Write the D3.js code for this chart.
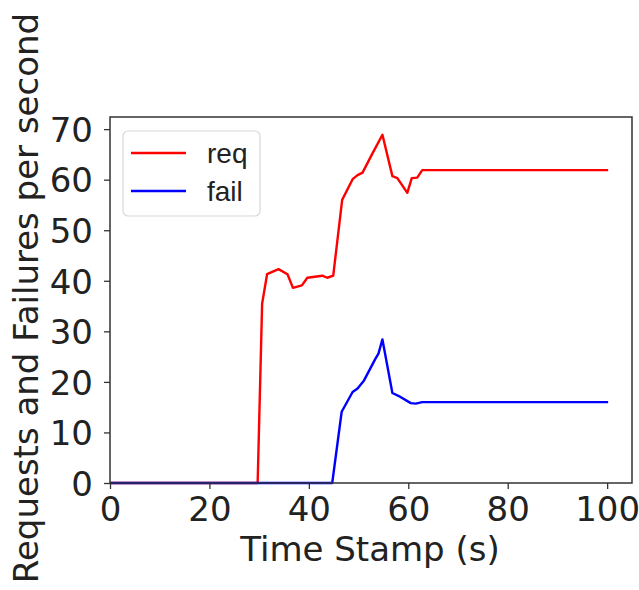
<!DOCTYPE html>
<html lang="en">
<head>
<meta charset="UTF-8" />
<title>Requests and Failures per second</title>
<style>
  body { margin: 0; background: #fff; }
  svg text { font-family: "DejaVu Sans", sans-serif; fill: #222; }
</style>
</head>
<body>
<script src="https://cdn.jsdelivr.net/npm/d3@7"></script>
<div id="app"></div>
<script>
// data (time in s, value per second)
const reqTime = [0, 29.7, 30.6, 31.6, 33.9, 35.7, 36.8, 38.6, 39.7, 42.7, 43.7, 44.9, 46.7, 48.8, 49.8, 50.8, 52.8, 54.8, 56.8, 57.8, 59.8, 60.7, 61.8, 62.8, 100.2];
const reqVal  = [0, 0, 35.5, 41.3, 42.3, 41.3, 38.6, 39.1, 40.6, 41.0, 40.6, 41.0, 56.0, 60.1, 60.9, 61.4, 65.2, 68.9, 60.7, 60.3, 57.4, 60.3, 60.4, 61.9, 61.9];
const failTime = [0, 44.7, 46.6, 48.8, 49.8, 51.1, 53.4, 54.0, 54.8, 56.8, 58.1, 60.5, 61.5, 62.8, 100.2];
const failVal  = [0, 0, 14.1, 18.0, 18.7, 20.3, 24.6, 25.6, 28.4, 17.8, 17.2, 15.8, 15.7, 16.0, 16.0];
const xTicks = [0, 20, 40, 60, 80, 100];
const yTicks = [0, 10, 20, 30, 40, 50, 60, 70];
const seriesNames = ["req", "fail"];
const seriesColors = ["#ff0000", "#0000ff"];

const w = 639, h = 590;
const mLeft = 110, mRight = 632, mTop = 117, mBottom = 483;

const svg = d3.select("#app").append("svg")
  .attr("width", w).attr("height", h);

const x = d3.scaleLinear().domain([0, 105]).range([mLeft, mRight]);
const y = d3.scaleLinear().domain([0, 72.4]).range([mBottom, mTop]);

//Lines
const line = d3.line().x(d => x(d[0])).y(d => y(d[1]));
const series = [
  d3.zip(reqTime, reqVal),
  d3.zip(failTime, failVal)
];
svg.selectAll(".series")
  .data(series)
  .enter()
  .append("path")
  .attr("class", "series")
  .attr("d", line)
  .attr("fill", "none")
  .attr("stroke", (d, i) => seriesColors[i])
  .attr("stroke-width", 2.4)
  .attr("stroke-linejoin", "round");

//Axes
const xAxis = d3.axisBottom(x).tickValues(xTicks).tickSize(6);
const yAxis = d3.axisLeft(y).tickValues(yTicks).tickSize(6).tickPadding(11);

const gx = svg.append("g").attr("transform", `translate(0,${mBottom})`).call(xAxis);
const gy = svg.append("g").attr("transform", `translate(${mLeft},0)`).call(yAxis);
[gx, gy].forEach(g => {
  g.select(".domain").remove();
  g.selectAll("line").attr("stroke", "#333").attr("stroke-width", 1.3);
  g.selectAll("text").style("font-size", "34px").attr("fill", "#222");
});
gx.selectAll("text").attr("y", 38).attr("dy", 0);
gy.selectAll("text").attr("dy", "0.36em");

// frame
svg.append("rect")
  .attr("x", mLeft).attr("y", mTop)
  .attr("width", mRight - mLeft).attr("height", mBottom - mTop)
  .attr("fill", "none").attr("stroke", "#333").attr("stroke-width", 1.5);

//Labels
svg.append("text")
  .attr("x", 370).attr("y", 561)
  .attr("text-anchor", "middle")
  .style("font-size", "34px")
  .text("Time Stamp (s)");

svg.append("text")
  .attr("transform", "translate(38,298) rotate(-90)")
  .attr("text-anchor", "middle")
  .style("font-size", "34px")
  .text("Requests and Failures per second");

//Legend
const legend = svg.append("g").attr("transform", "translate(123,131)");
legend.append("rect")
  .attr("width", 137).attr("height", 85)
  .attr("rx", 5)
  .attr("fill", "#fff").attr("fill-opacity", 0.8)
  .attr("stroke", "#d8d8d8").attr("stroke-width", 1.2);
const items = legend.selectAll(".item")
  .data(seriesNames)
  .enter()
  .append("g")
  .attr("transform", (d, i) => `translate(0,${22 + i * 38})`);
items.append("line")
  .attr("x1", 8).attr("x2", 63)
  .attr("stroke", (d, i) => seriesColors[i])
  .attr("stroke-width", 2.4);
items.append("text")
  .attr("x", 84).attr("dy", "0.35em")
  .style("font-family", "'Liberation Sans', Arial, sans-serif")
  .style("font-size", "28px")
  .text(d => d);
</script>
</body>
</html>
